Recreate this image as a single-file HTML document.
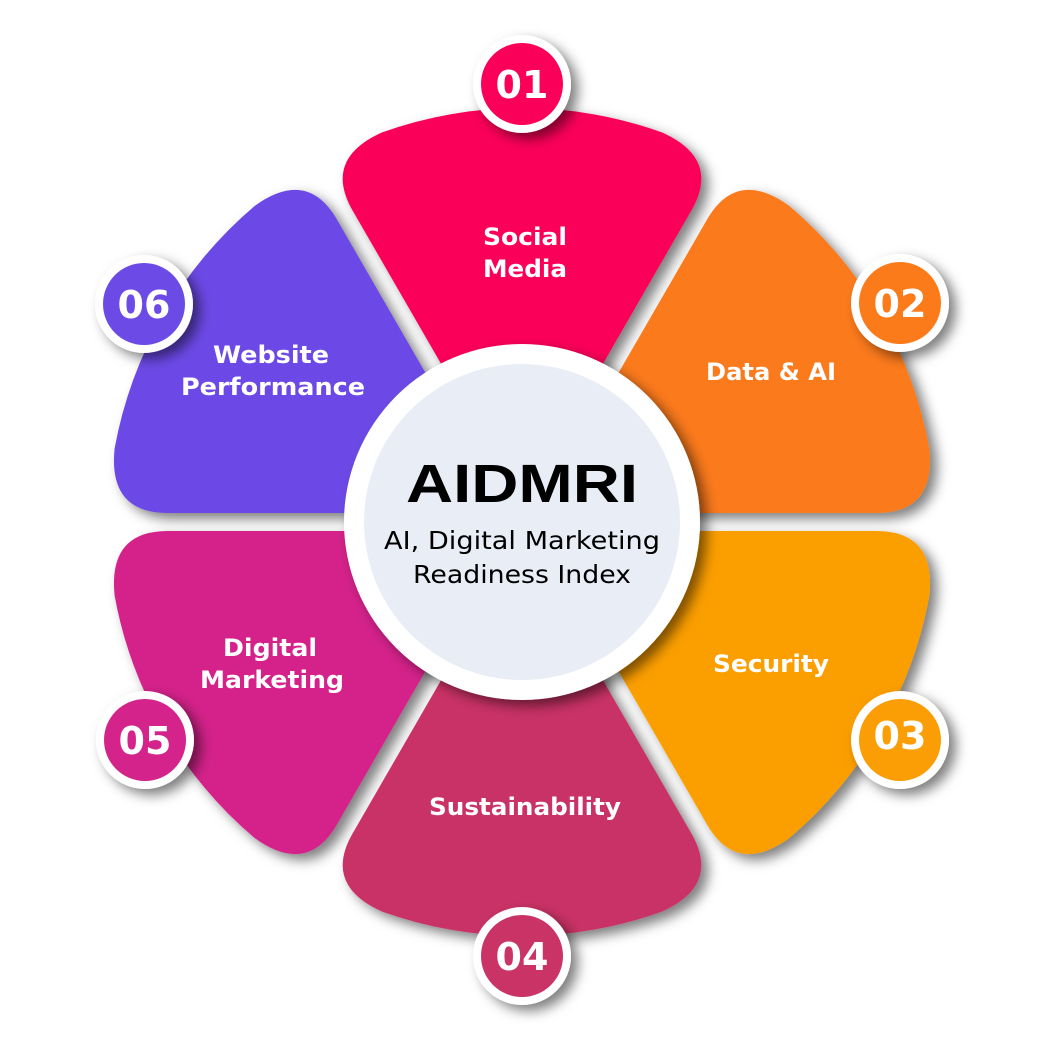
<!DOCTYPE html>
<html><head><meta charset="utf-8"><style>
html,body{margin:0;padding:0;background:#fff;}
svg{display:block;}
text{font-family:"DejaVu Sans","Liberation Sans",sans-serif;font-weight:bold;}
</style></head><body>
<svg width="1043" height="1042" viewBox="0 0 1043 1042" xmlns="http://www.w3.org/2000/svg">
<defs>
<filter id="sh" x="-30%" y="-30%" width="160%" height="160%">
<feDropShadow dx="7" dy="6" stdDeviation="6" flood-color="#000" flood-opacity="0.5"/>
</filter>
<path id="pet" d="M0,-18 L-169.2,-311.1 Q-199.2,-362.9 -140.2,-389.5 A414 414 0 0 1 140.2,-389.5 Q199.2,-362.9 169.2,-311.1 Z"/>
</defs>
<g transform="translate(522,522)" filter="url(#sh)">
<use href="#pet" fill="#FB0058" transform="rotate(0)"/>
<use href="#pet" fill="#FB7A1A" transform="rotate(60)"/>
<use href="#pet" fill="#FB9E05" transform="rotate(120)"/>
<use href="#pet" fill="#C93366" transform="rotate(180)"/>
<use href="#pet" fill="#D4238A" transform="rotate(240)"/>
<use href="#pet" fill="#6C4AE6" transform="rotate(300)"/>
</g>
<circle cx="522" cy="522" r="178" fill="#fff" filter="url(#sh)"/>
<circle cx="522" cy="522" r="158" fill="#E9EDF5"/>
<text x="522" y="502" font-size="54" text-anchor="middle" fill="#000" style="font-family:'Liberation Sans',sans-serif" textLength="232" lengthAdjust="spacingAndGlyphs">AIDMRI</text>
<text x="522" y="549" font-size="25" text-anchor="middle" fill="#000" style="font-weight:normal" textLength="276" lengthAdjust="spacingAndGlyphs">AI, Digital Marketing</text>
<text x="522" y="583" font-size="25" text-anchor="middle" fill="#000" style="font-weight:normal" textLength="218" lengthAdjust="spacingAndGlyphs">Readiness Index</text>
<g fill="#fff" font-size="24" text-anchor="middle">
<text x="525" y="245" textLength="84" lengthAdjust="spacingAndGlyphs">Social</text>
<text x="525" y="277" textLength="84" lengthAdjust="spacingAndGlyphs">Media</text>
<text x="771" y="380" textLength="130" lengthAdjust="spacingAndGlyphs">Data &amp; AI</text>
<text x="771" y="672" textLength="116" lengthAdjust="spacingAndGlyphs">Security</text>
<text x="525" y="815" textLength="192" lengthAdjust="spacingAndGlyphs">Sustainability</text>
<text x="270" y="656" textLength="94" lengthAdjust="spacingAndGlyphs">Digital</text>
<text x="272" y="688" textLength="144" lengthAdjust="spacingAndGlyphs">Marketing</text>
<text x="271" y="363" textLength="116" lengthAdjust="spacingAndGlyphs">Website</text>
<text x="273" y="395" textLength="184" lengthAdjust="spacingAndGlyphs">Performance</text>
</g>
<g font-size="38" text-anchor="middle" fill="#fff">
<g filter="url(#sh)">
<circle cx="522" cy="84" r="49" fill="#fff"/>
<circle cx="900" cy="303" r="49" fill="#fff"/>
<circle cx="900" cy="740" r="49" fill="#fff"/>
<circle cx="522" cy="956" r="49" fill="#fff"/>
<circle cx="145" cy="740" r="49" fill="#fff"/>
<circle cx="144" cy="304" r="49" fill="#fff"/>
</g>
<circle cx="522" cy="84" r="41" fill="#FB0058"/>
<circle cx="900" cy="303" r="41" fill="#FB7A1A"/>
<circle cx="900" cy="740" r="41" fill="#FB9E05"/>
<circle cx="522" cy="956" r="41" fill="#C93366"/>
<circle cx="145" cy="740" r="41" fill="#D4238A"/>
<circle cx="144" cy="304" r="41" fill="#6C4AE6"/>
<text x="522" y="98">01</text>
<text x="900" y="317">02</text>
<text x="900" y="749">03</text>
<text x="522" y="970">04</text>
<text x="145" y="754">05</text>
<text x="144" y="318">06</text>
</g>
</svg>
</body></html>
